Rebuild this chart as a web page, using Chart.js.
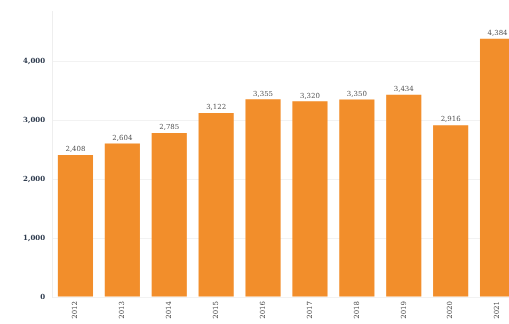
<!DOCTYPE html>
<html>
<head>
<meta charset="utf-8">
<script src="https://cdn.jsdelivr.net/npm/chart.js@4"></script>
<style>
  html, body { margin: 0; padding: 0; background: #fff; overflow: hidden; }
  #wrap { width: 521px; height: 324px; }
</style>
</head>
<body>
<div id="wrap"><canvas id="yearsChart" width="521" height="324"></canvas></div>
<script>
const years = ["2012", "2013", "2014", "2015", "2016", "2017", "2018", "2019", "2020", "2021"];
const totals = [2408, 2604, 2785, 3122, 3355, 3320, 3350, 3434, 2916, 4384];
const yTicks = [0, 1000, 2000, 3000, 4000];

const serif = "'DejaVu Serif', 'Liberation Serif', serif";

// draws the value above each bar
const barValues = {
  id: "barValues",
  afterDatasetsDraw(chart) {
    const ctx = chart.ctx;
    const meta = chart.getDatasetMeta(0);
    ctx.save();
    ctx.font = "7px " + serif;
    ctx.fillStyle = "#555";
    ctx.textAlign = "center";
    ctx.textBaseline = "bottom";
    meta.data.forEach((bar, i) => {
      ctx.fillText(totals[i].toLocaleString("en-US"), bar.x, bar.y - 2);
    });
    ctx.restore();
  }
};

new Chart("yearsChart", {
  type: "bar",
  data: {
    labels: years,
    datasets: [{
      label: "Total",
      data: totals,
      backgroundColor: "#F28E2B",
      borderWidth: 0,
      categoryPercentage: 1,
      barPercentage: 0.75
    }]
  },
  options: {
    responsive: false,
    animation: false,
    layout: { padding: { top: 11, right: 0, bottom: 0, left: 0 } },
    plugins: {
      legend: { display: false },
      tooltip: { enabled: false }
    },
    scales: {
      x: {
        grid: { display: false, drawTicks: false },
        border: { display: false },
        ticks: {
          minRotation: 90,
          maxRotation: 90,
          padding: 4,
          color: "#444",
          font: { family: serif, size: 7 }
        },
        afterFit(scale) { scale.height = 27; }
      },
      y: {
        min: 0,
        max: 4850,
        afterBuildTicks(scale) { scale.ticks = yTicks.map(v => ({ value: v })); },
        grid: { color: "#f2f2f2", drawTicks: false },
        border: { color: "#eeeeee" },
        ticks: {
          padding: 7,
          color: "#2e3b4e",
          font: { family: serif, size: 7, weight: "bold" },
          callback: v => v.toLocaleString("en-US")
        },
        afterFit(scale) { scale.width = 52; }
      }
    }
  },
  plugins: [barValues]
});
</script>
</body>
</html>
